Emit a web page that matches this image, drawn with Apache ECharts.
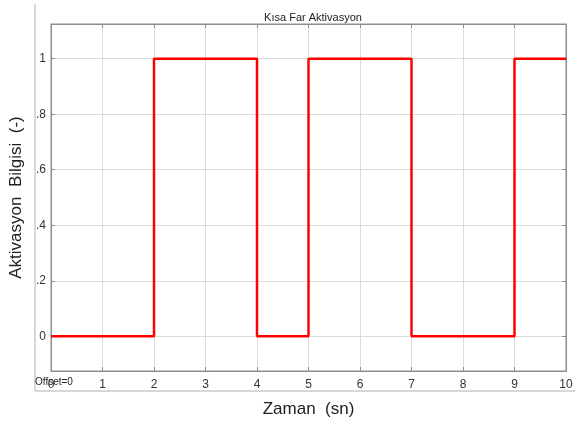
<!DOCTYPE html>
<html>
<head>
<meta charset="utf-8">
<title>Kısa Far Aktivasyon</title>
<script src="https://cdn.jsdelivr.net/npm/echarts@6/dist/echarts.min.js"></script>
<style>
  html, body { margin: 0; padding: 0; background: #fff; }
  #main { width: 575px; height: 422px; }
</style>
</head>
<body>
<div id="main"></div>
<script>
// step signal: time (sn) and activation value
var times = [0, 2, 4, 5, 7, 9, 10];
var values = [0, 1, 0, 1, 0, 1, 1];
var yTicks = [0, 0.2, 0.4, 0.6, 0.8, 1];
var yTickText = ['0', '.2', '.4', '.6', '.8', '1'];

var chart = echarts.init(document.getElementById('main'));
var font = 'Liberation Sans, Arial, sans-serif';
var frameColor = '#8c8c8c';
var gridColor = '#dcdcdc';

var points = times.map(function (t, i) { return [t, values[i]]; });

chart.setOption({
    animation: false,
    title: {
        text: 'Kısa Far Aktivasyon',
        left: 308, top: 7, textAlign: 'center',
        textStyle: { fontFamily: font, fontSize: 11, fontWeight: 'normal', color: '#222' }
    },
    grid: {
        left: 51, right: 9, top: 24, bottom: 51,
        outerBoundsMode: 'none', containLabel: false,
        show: true, borderColor: frameColor, borderWidth: 1
    },
    xAxis: [{
        type: 'value', min: 0, max: 10, interval: 1,
        name: 'Zaman  (sn)', nameLocation: 'middle', nameGap: 30,
        nameTextStyle: { fontFamily: font, fontSize: 17, color: '#222' },
        axisLine: { show: true, onZero: false, lineStyle: { color: frameColor } },
        axisTick: { inside: true, length: 4, lineStyle: { color: frameColor } },
        axisLabel: { fontFamily: font, fontSize: 12, color: '#333', margin: 8 },
        splitLine: { show: true, lineStyle: { color: gridColor } }
    }, {
        type: 'value', min: 0, max: 10, interval: 1, position: 'top',
        axisLine: { show: true, onZero: false, lineStyle: { color: frameColor } },
        axisTick: { inside: true, length: 4, lineStyle: { color: frameColor } },
        axisLabel: { show: false },
        splitLine: { show: false }
    }],
    yAxis: [{
        type: 'value', min: -0.125, max: 1.125,
        name: 'Aktivasyon  Bilgisi  (-)', nameLocation: 'middle', nameGap: 25,
        nameTextStyle: { fontFamily: font, fontSize: 17, color: '#222' },
        axisLine: { show: true, onZero: false, lineStyle: { color: frameColor } },
        axisTick: { inside: true, length: 4, customValues: yTicks, lineStyle: { color: frameColor } },
        axisLabel: {
            fontFamily: font, fontSize: 12, color: '#333', margin: 5,
            customValues: yTicks,
            formatter: function (v) {
                var i = yTicks.indexOf(Math.round(v * 10) / 10);
                return i >= 0 ? yTickText[i] : '';
            }
        },
        splitLine: { show: true, customValues: yTicks, lineStyle: { color: gridColor } }
    }, {
        type: 'value', min: -0.125, max: 1.125, position: 'right',
        axisLine: { show: true, onZero: false, lineStyle: { color: frameColor } },
        axisTick: { inside: true, length: 4, customValues: yTicks, lineStyle: { color: frameColor } },
        axisLabel: { show: false },
        splitLine: { show: false }
    }],
    graphic: [
        { type: 'line', shape: { x1: 35, y1: 4, x2: 35, y2: 391 }, style: { stroke: '#b0b0b0', lineWidth: 1 } },
        { type: 'line', shape: { x1: 35, y1: 391, x2: 575, y2: 391 }, style: { stroke: '#b0b0b0', lineWidth: 1 } },
        { type: 'text', left: 35, top: 377, style: { text: 'Offset=0', fontFamily: font, fontSize: 10, fill: '#222' } }
    ],
    series: [{
        type: 'line',
        step: 'end',
        data: points,
        showSymbol: false,
        lineStyle: { color: '#ff0000', width: 2.5 },
        itemStyle: { color: '#ff0000' }
    }]
});
</script>
</body>
</html>
